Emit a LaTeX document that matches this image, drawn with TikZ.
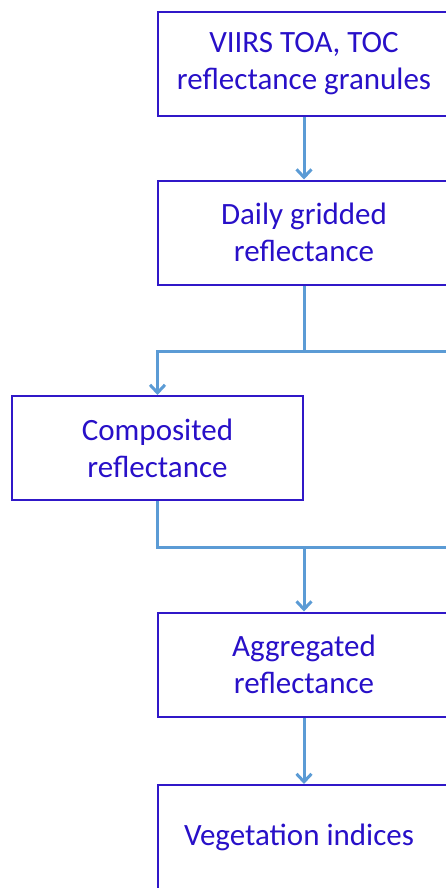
\documentclass[tikz,border=0pt]{standalone}
\usepackage{fontspec}
\setmainfont{Carlito}
\usetikzlibrary{arrows.meta}
\definecolor{boxblue}{RGB}{48,24,200}
\definecolor{txtblue}{RGB}{40,16,200}
\definecolor{flowblue}{RGB}{91,155,213}

\begin{document}
\begin{tikzpicture}[x=1pt,y=-1pt,
    >={Straight Barb[length=8pt,width=15pt]},
    procbox/.style={draw=boxblue,line width=2pt,text=txtblue,align=center,
        minimum width=292pt,minimum height=104pt,inner sep=0pt,
        font=\fontsize{31}{37}\selectfont},
    flow/.style={draw=flowblue,line width=3pt}]
\useasboundingbox (0,0) rectangle (446,888);
\clip (0,0) rectangle (446,888);
\node[procbox] (granules) at (304,64) {VIIRS TOA, TOC\\reflectance granules};
\node[procbox] (daily) at (304,232.5) {Daily gridded\\reflectance};
\node[procbox,minimum width=291pt] (composite) at (157.5,448) {Composited\\reflectance};
\node[procbox] (aggregate) at (304,664.5) {Aggregated\\reflectance};
\node[procbox] (vegindex) at (304,837) {Vegetation indices\hspace*{10pt}};
% branch lines running off to the right
\coordinate (splitend) at (470,351);
\coordinate (split) at (daily.south |- splitend);
\coordinate (mergeend) at (470,547);
\coordinate (merge) at (aggregate.north |- mergeend);
\draw[flow,->] (granules) -- (daily);
\draw[flow] (daily.south) -- (split) -- (splitend);
\draw[flow,->] (split) -| (composite.north);
\draw[flow] (composite.south) |- (mergeend);
\draw[flow,->] (merge) -- (aggregate.north);
\draw[flow,->] (aggregate) -- (vegindex);
\end{tikzpicture}
\end{document}
